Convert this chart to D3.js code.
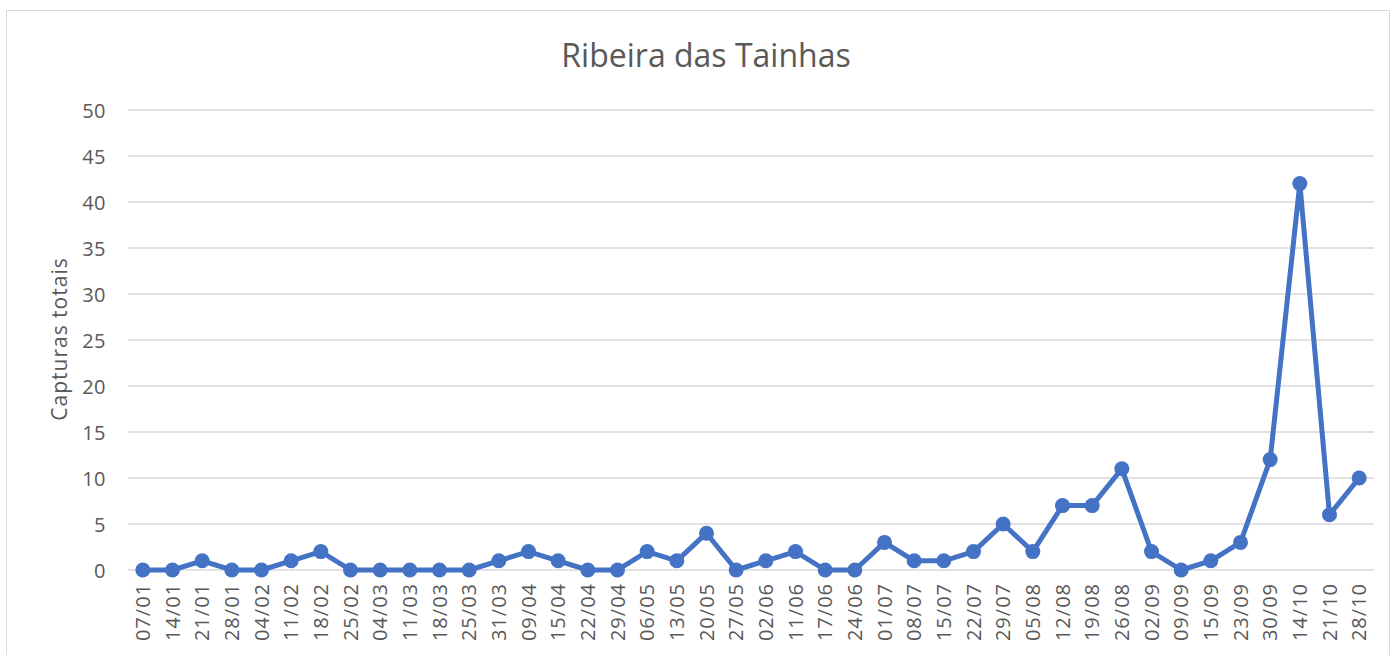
<!DOCTYPE html>
<html>
<head>
<meta charset="utf-8">
<script src="https://cdn.jsdelivr.net/npm/d3@7"></script>
<style>
  body { margin: 0; background: #fff; }
  svg text { font-family: "Open Sans", "Noto Sans", sans-serif; fill: #595959; }
</style>
</head>
<body>
<div id="chart"></div>
<script>
const dates = ["07/01", "14/01", "21/01", "28/01", "04/02", "11/02", "18/02", "25/02", "04/03", "11/03",
  "18/03", "25/03", "31/03", "09/04", "15/04", "22/04", "29/04", "06/05", "13/05", "20/05",
  "27/05", "02/06", "11/06", "17/06", "24/06", "01/07", "08/07", "15/07", "22/07", "29/07",
  "05/08", "12/08", "19/08", "26/08", "02/09", "09/09", "15/09", "23/09", "30/09", "14/10",
  "21/10", "28/10"];
const captures = [0, 0, 1, 0, 0, 1, 2, 0, 0, 0,
  0, 0, 1, 2, 1, 0, 0, 2, 1, 4,
  0, 1, 2, 0, 0, 3, 1, 1, 2, 5,
  2, 7, 7, 11, 2, 0, 1, 3, 12, 42,
  6, 10];
const yTicks = [0, 5, 10, 15, 20, 25, 30, 35, 40, 45, 50];

const width = 1393, height = 655;
const margin = { top: 110, right: 19, bottom: 85, left: 128 };
const plotW = width - margin.left - margin.right;
const plotH = height - margin.top - margin.bottom;

const svg = d3.select("#chart").append("svg")
  .attr("width", width)
  .attr("height", height);

// chart area border
svg.append("rect")
  .attr("x", 6.5).attr("y", 10.5)
  .attr("width", 1383).attr("height", 700)
  .attr("fill", "none")
  .attr("stroke", "#d9d9d9")
  .attr("stroke-width", 1);

const g = svg.append("g").attr("transform", `translate(${margin.left},${margin.top})`);

const x = d3.scaleBand().domain(dates).range([0, plotW]);
const y = d3.scaleLinear().domain([0, 50]).range([plotH, 0]);

// gridlines
g.append("g")
  .selectAll("line")
  .data(yTicks)
  .enter()
  .append("line")
  .attr("x1", 0).attr("x2", plotW)
  .attr("y1", (d) => y(d)).attr("y2", (d) => y(d))
  .attr("stroke", "#d9d9d9")
  .attr("stroke-width", 1.5);

// y axis
const yAxis = g.append("g")
  .attr("transform", "translate(-22,0)")
  .call(d3.axisLeft(y).tickValues(yTicks).tickSize(0).tickPadding(0));
yAxis.select(".domain").remove();
yAxis.selectAll("text")
  .style("font-size", "20px")
  .style("letter-spacing", "0.5px")
  .attr("dy", "0.35em");

// x axis
const xAxis = g.append("g")
  .attr("transform", `translate(0,${plotH})`)
  .call(d3.axisBottom(x).tickSize(0));
xAxis.select(".domain").remove();
xAxis.selectAll("text")
  .style("font-size", "20px")
  .style("letter-spacing", "1px")
  .attr("transform", "rotate(-90)")
  .attr("text-anchor", "end")
  .attr("x", -13)
  .attr("y", 0)
  .attr("dy", "0.35em");

// line
const line = d3.line()
  .x((d, i) => x(dates[i]) + x.bandwidth() / 2)
  .y((d) => y(d));

g.append("path")
  .datum(captures)
  .attr("fill", "none")
  .attr("stroke", "#4472c4")
  .attr("stroke-width", 5)
  .attr("stroke-linejoin", "round")
  .attr("d", line);

g.selectAll(".pt")
  .data(captures)
  .enter()
  .append("circle")
  .attr("class", "pt")
  .attr("cx", (d, i) => x(dates[i]) + x.bandwidth() / 2)
  .attr("cy", (d) => y(d))
  .attr("r", 7.5)
  .attr("fill", "#4472c4");

// title
svg.append("text")
  .attr("x", 706)
  .attr("y", 67)
  .attr("text-anchor", "middle")
  .style("font-size", "32px")
  .text("Ribeira das Tainhas");

// y title
svg.append("text")
  .attr("transform", "translate(67,339) rotate(-90)")
  .attr("text-anchor", "middle")
  .style("font-size", "21px")
  .style("letter-spacing", "1px")
  .text("Capturas totais");
</script>
</body>
</html>
